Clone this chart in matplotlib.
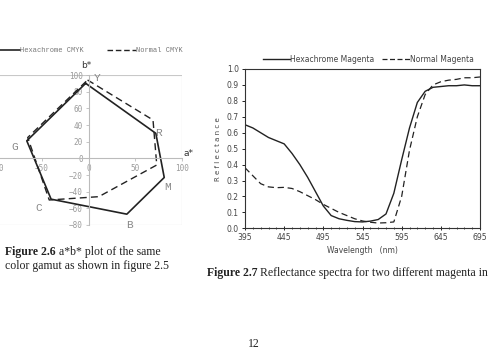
import numpy as np
import matplotlib.pyplot as plt
from matplotlib.lines import Line2D
from matplotlib.patches import Rectangle

# a*b* gamut (figure 2.6)
gamut_labels = ['Y', 'R', 'M', 'B', 'C', 'G']
hexa_a = [-3, 72, 81, 41, -40, -66]
hexa_b = [90, 30, -23, -67, -49, 21]
norm_a = [-1, 69, 73, 11, -42, -65]
norm_b = [94, 46, -8, -46, -50, 25]
label_a = [9, 75, 85, 44, -53, -79]
label_b = [96, 31, -34, -80, -60, 14]

# reflectance spectra (figure 2.7)
wl = [395, 405, 415, 425, 435, 445, 455, 465, 475, 485, 495, 505, 515, 525,
      535, 545, 555, 565, 575, 585, 595, 605, 615, 625, 635, 645, 655, 665,
      675, 685, 695]
hexa_mag = [0.65, 0.63, 0.60, 0.57, 0.55, 0.53, 0.47, 0.40, 0.32, 0.23, 0.14,
            0.08, 0.06, 0.05, 0.042, 0.04, 0.045, 0.055, 0.09, 0.22, 0.43,
            0.63, 0.79, 0.86, 0.885, 0.89, 0.895, 0.895, 0.90, 0.895, 0.895]
norm_mag = [0.38, 0.33, 0.28, 0.26, 0.255, 0.257, 0.25, 0.23, 0.205, 0.18,
            0.15, 0.125, 0.10, 0.08, 0.06, 0.046, 0.038, 0.033, 0.035, 0.04,
            0.20, 0.49, 0.70, 0.84, 0.90, 0.92, 0.93, 0.935, 0.945, 0.945, 0.95]

W, H = 488, 358
fig = plt.figure(figsize=(W / 100, H / 100), dpi=100)
fig.patch.set_facecolor('white')


def fx(px):
    return px / W


def fy(py):
    return 1 - py / H


grey = '#9a9a9a'

# ---- left chart: a*b* ----
ax = fig.add_axes([fx(-5), fy(225), fx(187), (225 - 75) / H])
ax.set_xlim(-100, 100)
ax.set_ylim(-80, 100)
for s in ['top', 'right']:
    ax.spines[s].set_visible(False)
ax.spines['left'].set_position(('data', 0))
ax.spines['bottom'].set_position(('data', 0))
for s in ['left', 'bottom']:
    ax.spines[s].set_color('#bbbbbb')
    ax.spines[s].set_linewidth(0.8)
ax.add_patch(Rectangle((0, 0), 1, 1, transform=ax.transAxes, fill=False,
                       ec='#c8c8c8', lw=0.8, zorder=0))
ax.set_xticks([-100, -50, 0, 50, 100])
ax.set_yticks([-80, -60, -40, -20, 0, 20, 40, 60, 80, 100])
ax.tick_params(length=2, width=0.6, color='#bbbbbb', labelcolor=grey,
               labelsize=5.5, pad=2)
for t in ax.get_xticklabels() + ax.get_yticklabels():
    t.set_fontfamily('DejaVu Sans Mono')
ax.plot(hexa_a + hexa_a[:1], hexa_b + hexa_b[:1], color='#222222', lw=1.2)
ax.plot(norm_a + norm_a[:1], norm_b + norm_b[:1], color='#222222', lw=1.0,
        dashes=(5, 3))
for lab, a, b in zip(gamut_labels, label_a, label_b):
    ax.text(a, b, lab, color='#888888', fontsize=8, family='Liberation Mono',
            ha='center', va='center')
ax.text(102, 0, 'a*', color='#333333', fontsize=6.5, ha='left', va='bottom',
        family='DejaVu Sans')
fig.text(fx(86), fy(65), 'b*', color='#333333', fontsize=6.5, ha='center',
         va='center', family='DejaVu Sans')

# legend left
fig.add_artist(Line2D([fx(0), fx(20)], [fy(50), fy(50)], color='#222222', lw=1.2))
fig.text(fx(20), fy(50), 'Hexachrome CMYK', fontsize=5, color='#777777',
         family='Liberation Mono', va='center')
fig.add_artist(Line2D([fx(107), fx(136)], [fy(50), fy(50)], color='#222222',
                      lw=1.0, dashes=(4, 2)))
fig.text(fx(136), fy(50), 'Normal CMYK', fontsize=5, color='#777777',
         family='Liberation Mono', va='center')

# ---- right chart: reflectance ----
ax2 = fig.add_axes([fx(245), fy(228.3), fx(235), (228.3 - 69) / H])
ax2.plot(wl, hexa_mag, color='#222222', lw=1.0)
ax2.plot(wl, norm_mag, color='#222222', lw=0.9, dashes=(5, 3))
ax2.set_xlim(395, 695)
ax2.set_ylim(0, 1.0)
ax2.set_xticks(np.arange(395, 696, 50))
ax2.set_xticks(np.arange(395, 696, 10), minor=True)
ax2.set_yticks(np.arange(0, 1.01, 0.1))
ax2.set_yticklabels(['%.1f' % v for v in np.arange(0, 1.01, 0.1)])
for s in ax2.spines.values():
    s.set_linewidth(0.8)
    s.set_color('#333333')
ax2.tick_params(labelsize=5.5, labelcolor='#444444', length=2.5, width=0.6,
                pad=2)
ax2.tick_params(axis='x', which='both', direction='inout')
ax2.tick_params(axis='x', which='minor', length=2, width=0.5)
ax2.set_xlabel('Wavelength   (nm)', fontsize=5.5, color='#444444', labelpad=3)
ax2.set_ylabel('R e f l e c t a n c e', fontsize=5, color='#444444',
               labelpad=4)

fig.add_artist(Line2D([fx(263), fx(290)], [fy(59), fy(59)], color='#222222', lw=1.0))
fig.text(fx(290), fy(59), 'Hexachrome Magenta', fontsize=5.5, color='#444444',
         va='center')
fig.add_artist(Line2D([fx(382), fx(410)], [fy(59), fy(59)], color='#222222',
                      lw=0.9, dashes=(4, 2)))
fig.text(fx(410), fy(59), 'Normal Magenta', fontsize=5.5, color='#444444',
         va='center')

# ---- captions ----
serif = 'Liberation Serif'
fs = 8.5
renderer = fig.canvas.get_renderer()


def caption(x, y, bold, rest):
    t = fig.text(fx(x), fy(y), bold, fontsize=fs, family=serif, weight='bold',
                 color='#222222', va='center')
    bb = t.get_window_extent(renderer)
    fig.text(bb.x1 / W + fx(3), fy(y), rest, fontsize=fs, family=serif,
             color='#222222', va='center')


caption(5, 251.5, 'Figure 2.6', 'a*b* plot of the same')
fig.text(fx(5), fy(265.7), 'color gamut as shown in figure 2.5', fontsize=fs,
         family=serif, color='#222222', va='center')
caption(207, 273, 'Figure 2.7', 'Reflectance spectra for two different magenta inks')
fig.text(fx(254), fy(344), '12', fontsize=fs, family=serif, color='#222222',
         ha='center', va='center')

fig.savefig('out.png', dpi=100)
